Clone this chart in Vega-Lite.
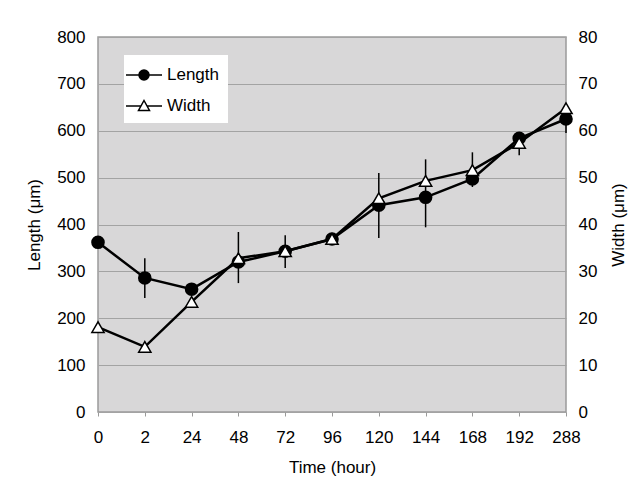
{
  "$schema": "https://vega.github.io/schema/vega-lite/v6.json",
  "autosize": {"type": "none"},
  "padding": {"left": 98, "top": 37, "right": 67, "bottom": 68},
  "width": 468,
  "height": 375,
  "background": "white",
  "config": {
    "font": "Liberation Sans",
    "view": {"fill": "#d8d7d8", "stroke": "#9a9a9a", "strokeWidth": 1.5},
    "axis": {"labelFont": "Liberation Sans", "titleFont": "Liberation Sans", "labelFontSize": 17, "titleFontSize": 17, "titleFontWeight": "normal", "labelColor": "black", "titleColor": "black"}
  },
  "data": {"values": [
    {"time": "0", "series": "Length", "value": 362},
    {"time": "2", "series": "Length", "value": 286, "lo": 243, "hi": 328},
    {"time": "24", "series": "Length", "value": 262},
    {"time": "48", "series": "Length", "value": 320},
    {"time": "72", "series": "Length", "value": 343, "lo": 307, "hi": 377},
    {"time": "96", "series": "Length", "value": 369},
    {"time": "120", "series": "Length", "value": 441, "lo": 371, "hi": 510},
    {"time": "144", "series": "Length", "value": 458, "lo": 394, "hi": 539},
    {"time": "168", "series": "Length", "value": 497},
    {"time": "192", "series": "Length", "value": 584},
    {"time": "288", "series": "Length", "value": 625, "lo": 595, "hi": 659},
    {"time": "0", "series": "Width", "value": 18.1},
    {"time": "2", "series": "Width", "value": 13.9},
    {"time": "24", "series": "Width", "value": 23.5},
    {"time": "48", "series": "Width", "value": 32.8, "lo": 27.5, "hi": 38.4},
    {"time": "72", "series": "Width", "value": 34.3},
    {"time": "96", "series": "Width", "value": 36.9},
    {"time": "120", "series": "Width", "value": 45.6},
    {"time": "144", "series": "Width", "value": 49.3},
    {"time": "168", "series": "Width", "value": 51.6, "lo": 48.0, "hi": 55.4},
    {"time": "192", "series": "Width", "value": 57.4, "lo": 54.8, "hi": 59.7},
    {"time": "288", "series": "Width", "value": 64.8}
  ]},
  "encoding": {
    "x": {
      "field": "time", "type": "ordinal",
      "sort": ["0", "2", "24", "48", "72", "96", "120", "144", "168", "192", "288"],
      "scale": {"type": "point", "padding": 0},
      "axis": {"title": "Time (hour)", "labelAngle": 0, "domain": false, "tickColor": "#9a9a9a", "tickSize": 4, "labelPadding": 13, "titlePadding": 14, "grid": false}
    }
  },
  "layer": [
    {
      "transform": [{"filter": {"field": "series", "equal": "Length"}}],
      "encoding": {
        "y": {
          "field": "value", "type": "quantitative",
          "scale": {"domain": [0, 800], "nice": false},
          "axis": {"title": "Length (μm)", "orient": "left", "values": [0, 100, 200, 300, 400, 500, 600, 700, 800], "grid": true, "gridColor": "#a3a3a3", "gridWidth": 1.2, "ticks": false, "domain": false, "labelPadding": 13, "titlePadding": 13}
        }
      },
      "layer": [
        {"mark": {"type": "rule", "color": "black", "strokeWidth": 1.5}, "encoding": {"y": {"field": "lo", "type": "quantitative"}, "y2": {"field": "hi"}}},
        {"mark": {"type": "line", "color": "black", "strokeWidth": 2.5}, "encoding": {}},
        {"mark": {"type": "point", "shape": "circle", "filled": true, "fill": "black", "stroke": "black", "size": 135, "opacity": 1}, "encoding": {}}
      ]
    },
    {
      "transform": [{"filter": {"field": "series", "equal": "Width"}}],
      "encoding": {
        "y": {
          "field": "value", "type": "quantitative",
          "scale": {"domain": [0, 80], "nice": false},
          "axis": {"title": "Width (μm)", "orient": "right", "titleAngle": -90, "values": [0, 10, 20, 30, 40, 50, 60, 70, 80], "grid": false, "ticks": false, "domain": false, "labelPadding": 12, "titlePadding": 31}
        }
      },
      "layer": [
        {"mark": {"type": "rule", "color": "black", "strokeWidth": 1.5}, "encoding": {"y": {"field": "lo", "type": "quantitative"}, "y2": {"field": "hi"}}},
        {"mark": {"type": "line", "color": "black", "strokeWidth": 2.5}, "encoding": {}},
        {"mark": {"type": "point", "shape": "triangle-up", "filled": true, "fill": "white", "stroke": "black", "strokeWidth": 1.5, "size": 150, "opacity": 1}, "encoding": {}}
      ]
    },
    {
      "transform": [{"filter": "false"}],
      "mark": {"type": "point", "filled": true, "stroke": "black", "strokeWidth": 1.5, "opacity": 1},
      "encoding": {
        "shape": {
          "field": "series", "type": "nominal",
          "scale": {"domain": ["Length", "Width"], "range": ["M-1.8,0H-0.5M0.5,0H1.8M0.5,0A0.5,0.5,0,1,1,-0.5,0A0.5,0.5,0,1,1,0.5,0Z", "M-1.8,0H-0.3M0.3,0H1.8M0,-0.55L0.55,0.45L-0.55,0.45Z"]},
          "legend": {
            "title": null, "orient": "none", "legendX": 26, "legendY": 18, "fillColor": "white", "padding": 9,
            "symbolSize": 400, "labelFontSize": 17, "labelOffset": 12, "rowPadding": 12, "labelColor": "black",
            "encode": {"symbols": {"update": {"stroke": {"value": "black"}, "strokeWidth": {"value": 2.5}, "opacity": {"value": 1}}}}
          }
        },
        "fill": {
          "field": "series", "type": "nominal",
          "scale": {"domain": ["Length", "Width"], "range": ["black", "white"]},
          "legend": {"title": null, "orient": "none", "legendX": 26, "legendY": 18}
        }
      }
    }
  ],
  "resolve": {"scale": {"y": "independent"}}
}
